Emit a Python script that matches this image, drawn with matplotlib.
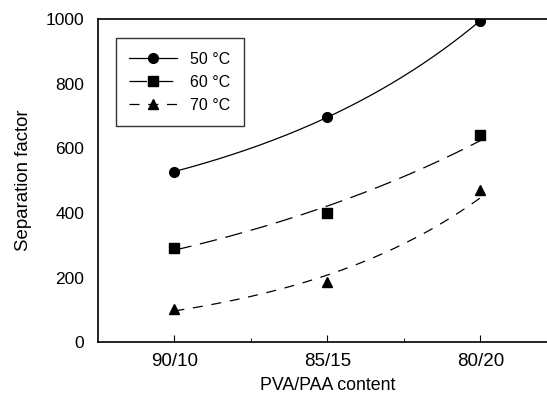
import numpy as np
import matplotlib
matplotlib.use("Agg")
import matplotlib.pyplot as plt

plt.rcParams['font.family'] = ['Liberation Sans', 'DejaVu Sans']

categories = ["90/10", "85/15", "80/20"]
series_labels = ["50 °C", "60 °C", "70 °C"]
sep_50 = [528, 696, 995]
sep_60 = [292, 400, 640]
sep_70 = [102, 186, 472]

fig = plt.figure(figsize=(5.47, 3.96), dpi=100)
ax = fig.add_axes([0.179, 0.136, 0.839, 0.816])

x = np.arange(len(categories))
xs = np.linspace(0, 2, 200)
styles = [
    dict(marker='o', ms=7, ls='-'),
    dict(marker='s', ms=6.5, ls=(0, (14, 7))),
    dict(marker='^', ms=7, ls=(0, (8, 7))),
]
handles = []
for vals, lab, st in zip([sep_50, sep_60, sep_70], series_labels, styles):
    c = np.polyfit(x, np.log(vals), 2 if lab == "50 °C" else 1)
    ax.plot(xs, np.exp(np.polyval(c, xs)), color='black', lw=0.9, ls=st['ls'])
    ax.plot(x, vals, color='black', marker=st['marker'], ms=st['ms'], ls='none')
    h, = ax.plot([], [], color='black', lw=0.9, ls=st['ls'], marker=st['marker'], ms=st['ms'])
    handles.append(h)

ax.set_xlim(-0.5, 2.5)
ax.set_ylim(0, 1000)
ax.set_xticks(x)
ax.set_xticklabels(categories)
ax.set_xticks([0.5, 1.5], minor=True)
ax.set_yticks(np.arange(0, 1001, 200))
ax.tick_params(axis='x', which='major', direction='in', length=5, labelsize=13.5, pad=8)
ax.tick_params(axis='x', which='minor', direction='in', length=3)
ax.tick_params(axis='y', direction='in', length=0, labelsize=12.5, pad=10)
for s in ax.spines.values():
    s.set_linewidth(1.2)
ax.set_xlabel("PVA/PAA content", fontsize=12.8, labelpad=5)
ax.set_ylabel("Separation factor", fontsize=13.4, labelpad=10)

leg = ax.legend(handles, series_labels, loc='upper left', bbox_to_anchor=(0.039, 0.941),
                borderaxespad=0, frameon=True, fancybox=False, fontsize=11.5,
                handlelength=3.0, handletextpad=0.8, labelspacing=0.5, borderpad=0.85)
leg.get_frame().set_edgecolor('black')
leg.get_frame().set_linewidth(1.0)

fig.savefig("out.png", dpi=100)
